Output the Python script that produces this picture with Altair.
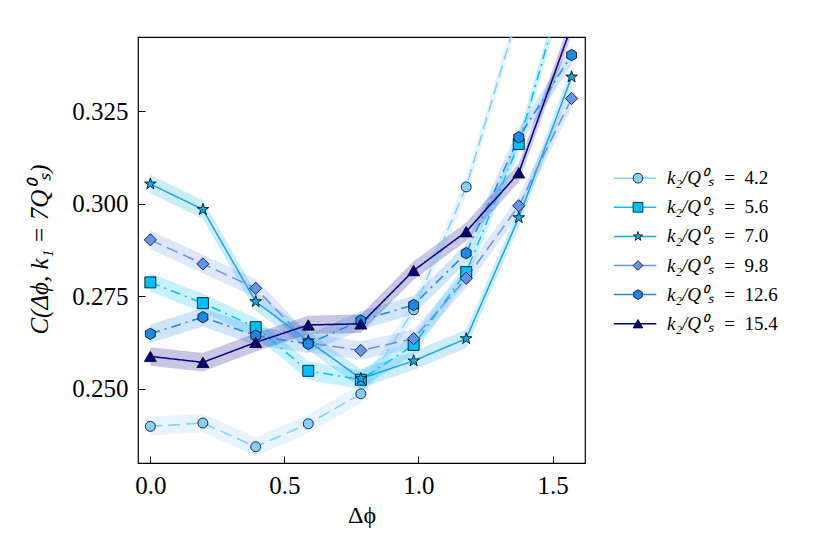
import altair as alt
import pandas as pd

# ---- data ----
dphi = [0.0, 0.196, 0.393, 0.589, 0.785, 0.982, 1.178, 1.374, 1.571]
series_labels = ["4.2", "5.6", "7.0", "9.8", "12.6", "15.4"]
c_42 = [0.2399, 0.2408, 0.2344, 0.2406, 0.2487, 0.2714, 0.3046, 0.3522, 0.392]
c_56 = [0.2788, 0.2732, 0.2667, 0.2549, 0.2525, 0.2619, 0.2816, 0.3162, 0.3663]
c_70 = [0.3054, 0.2985, 0.2736, 0.2630, 0.2528, 0.2576, 0.2636, 0.2963, 0.3343]
c_98 = [0.2903, 0.2838, 0.2772, 0.2625, 0.2604, 0.2636, 0.2799, 0.2995, 0.3285]
c_126 = [0.2649, 0.2694, 0.2644, 0.2622, 0.2685, 0.2727, 0.2867, 0.3180, 0.3402]
c_154 = [0.2588, 0.2572, 0.2626, 0.2673, 0.2676, 0.2820, 0.2925, 0.3084, 0.3481]
band_err = [0.0025, 0.0025, 0.0025, 0.0025, 0.0025, 0.0025]
all_series = [c_42, c_56, c_70, c_98, c_126, c_154]

x_ticks = [0.0, 0.5, 1.0, 1.5]
y_ticks = [0.250, 0.275, 0.300, 0.325]

# ---- styles ----
colors = ["#87CEFA", "#00BFFF", "#19A7E4", "#6495ED", "#1E88E8", "#000080"]
dashes = [[12, 6], [10, 5, 2, 5], [1, 0], [12, 6], [10, 5, 2, 5], [1, 0]]
STAR = ("M0,-1L0.225,-0.309L0.951,-0.309L0.363,0.118L0.588,0.809L0,0.382"
        "L-0.588,0.809L-0.363,0.118L-0.951,-0.309L-0.225,-0.309Z")
HEX = "M0,-1L0.866,-0.5L0.866,0.5L0,1L-0.866,0.5L-0.866,-0.5Z"
shapes = ["circle", "square", STAR, "diamond", HEX, "triangle-up"]
marker_sizes = [100, 121, 150, 150, 130, 144]
FONT = "Liberation Serif"

LEG_VAR = "k\u2082/Q\u2070\u209b"
legend_keys = [LEG_VAR + " = " + s for s in series_labels]
dash_keys = ["dash " + s for s in series_labels]

rows = []
for lab, key, dk, vals, err, ms in zip(series_labels, legend_keys, dash_keys,
                                        all_series, band_err, marker_sizes):
    for x, v in zip(dphi, vals):
        rows.append({"series": lab, "lab": key, "dkey": dk, "dphi": x, "c": v,
                     "lo": v - err, "hi": v + err, "msize": ms})
df = pd.DataFrame(rows)

W, H = 447, 426

x_enc = alt.X("dphi:Q",
              scale=alt.Scale(domain=[-0.046, 1.621], nice=False, zero=False),
              axis=alt.Axis(values=x_ticks, format=".1f", title="Δϕ",
                            tickSize=7, offset=-7, domain=False, labelPadding=10,
                            labelFlush=False, titleBaseline="alphabetic", titleY=66))
y_axis = alt.Axis(values=y_ticks, format=".3f",
                  title="C(Δϕ, k\u2081 = 7Q\u2070\u209b)",
                  tickSize=7, offset=-7, domain=False, labelPadding=10,
                  labelFlush=False, titleAngle=270, titleAlign="center",
                  titleBaseline="alphabetic", titleX=-98, titleY=212,
                  titleFontStyle="italic", titleFontSize=25)
y_scale = alt.Scale(domain=[0.2300, 0.3451], nice=False, zero=False)

color_scale = alt.Scale(domain=legend_keys, range=colors)
fill_scale = alt.Scale(domain=series_labels, range=colors)
shape_scale = alt.Scale(domain=series_labels, range=shapes)
edge_scale = alt.Scale(domain=series_labels, range=["black"] * len(series_labels))
dash_scale = alt.Scale(domain=dash_keys, range=dashes)

LEG_X, LEG_Y, ROW_PAD = 487.5, 131.7, 9.1

# line legend: coloured line + italic variable name
leg_lines = alt.Legend(title=None, orient="none", legendX=LEG_X, legendY=LEG_Y,
                       symbolType="M-2.5,0H2.5", symbolSize=289, symbolStrokeWidth=1.5,
                       labelFont=FONT, labelFontSize=19, labelColor="black",
                       labelFontStyle="italic", labelExpr="'" + LEG_VAR + "'",
                       labelOffset=22.5, rowPadding=ROW_PAD, padding=0,
                       labelLimit=300)
# marker legend: marker on the line + "= value"
leg_marks = alt.Legend(title=None, orient="none", legendX=LEG_X, legendY=LEG_Y,
                       symbolSize=95, symbolStrokeWidth=0.8, symbolOffset=3,
                       labelFont=FONT, labelFontSize=19, labelColor="black",
                       labelExpr="'=\u2002' + datum.label",
                       labelOffset=76.75, rowPadding=ROW_PAD, padding=0,
                       labelLimit=300)

base = alt.Chart(df)

band_layers = []
for lab, col in zip(series_labels, colors):
    band_layers.append(
        base.transform_filter(alt.datum.series == lab)
        .mark_area(color=col, opacity=0.22, clip=True)
        .encode(x=x_enc,
                y=alt.Y("lo:Q", scale=y_scale, axis=y_axis),
                y2="hi:Q")
    )

lines = base.mark_line(clip=True, strokeWidth=1.5).encode(
    x=x_enc,
    y=alt.Y("c:Q", scale=y_scale, axis=y_axis),
    color=alt.Color("lab:N", scale=color_scale, legend=leg_lines),
    strokeDash=alt.StrokeDash("dkey:N", scale=dash_scale, legend=None),
)

points = base.mark_point(filled=True, strokeWidth=0.8,
                         opacity=1, clip=True).encode(
    x=x_enc,
    y=alt.Y("c:Q", scale=y_scale, axis=y_axis),
    fill=alt.Fill("series:N", scale=fill_scale, legend=leg_marks),
    shape=alt.Shape("series:N", scale=shape_scale, legend=leg_marks),
    stroke=alt.Stroke("series:N", scale=edge_scale, legend=leg_marks),
    size=alt.Size("msize:Q", scale=None),
)

chart = alt.layer(*band_layers, lines, points).properties(
    width=W, height=H,
    autosize=alt.AutoSizeParams(type="none"),
    padding={"left": 130, "top": 29, "right": 230, "bottom": 80},
    background="white",
).configure_axis(
    labelFont=FONT, titleFont=FONT, labelFontSize=25, titleFontSize=24,
    labelColor="black", titleColor="black", tickColor="black", tickWidth=1,
    grid=False, titleFontWeight="normal",
).configure_view(stroke="black", strokeWidth=1.2)

chart.save("out.html", embed_options={"renderer": "svg", "actions": False})
